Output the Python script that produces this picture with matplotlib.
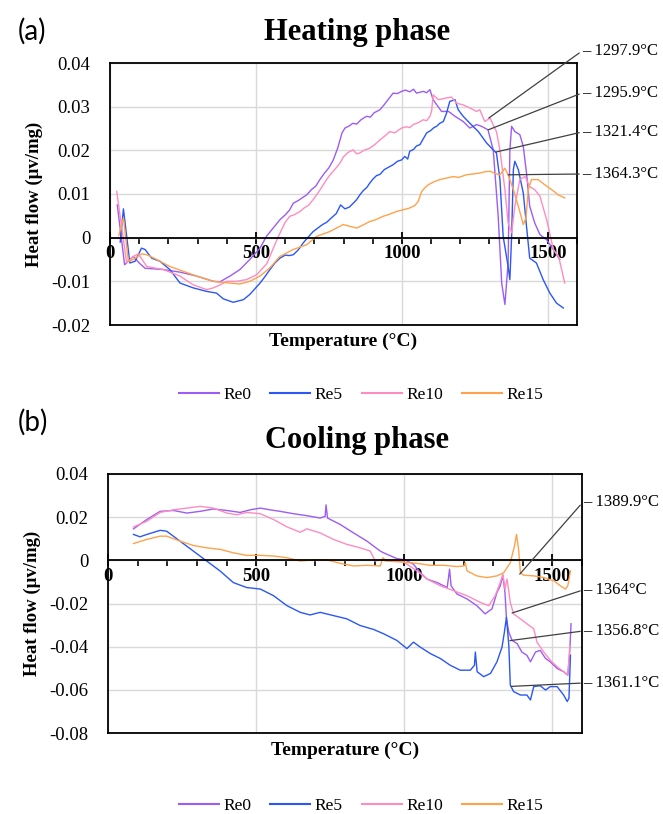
import matplotlib
matplotlib.use("Agg")
import matplotlib.pyplot as plt
from matplotlib.ticker import MultipleLocator

SERIF = "Liberation Serif"
labels = ["Re0", "Re5", "Re10", "Re15"]
colors = ["#9C5CF6", "#2B57F5", "#FF8CC0", "#FFA24C"]

# ---- heating phase (temperature in C, heat flow in uV/mg) ----
heat_re0_t = [25, 50, 80, 100, 120, 183, 240, 297, 354, 377, 411, 445, 479, 514, 536, 582, 600, 615,
              628, 645, 660, 674, 690, 705, 719, 735, 750, 765, 780, 795, 805, 820, 832, 845, 860, 879,
              892, 905, 925, 940, 955, 970, 985, 999, 1012, 1027, 1040, 1050, 1062, 1073, 1085, 1096,
              1107, 1136, 1160, 1182, 1210, 1233, 1256, 1273, 1295, 1313, 1330, 1342, 1353, 1364, 1370,
              1376, 1387, 1404, 1416, 1427, 1438, 1455, 1473, 1496, 1519, 1541]
heat_re0 = [0.0075, -0.0062, -0.0043, -0.0058, -0.0070, -0.0073, -0.0079, -0.0088, -0.0100, -0.0101,
            -0.0088, -0.0073, -0.0050, -0.0024, 0.0003, 0.0041, 0.0052, 0.0063, 0.0079, 0.0085, 0.0092,
            0.0098, 0.0110, 0.0118, 0.0133, 0.0148, 0.0160, 0.0178, 0.0205, 0.0240, 0.0251, 0.0256,
            0.0262, 0.0260, 0.0270, 0.0278, 0.0276, 0.0286, 0.0293, 0.0305, 0.0318, 0.0331, 0.0330,
            0.0335, 0.0338, 0.0334, 0.0340, 0.0331, 0.0333, 0.0335, 0.0332, 0.0339, 0.0316, 0.0289,
            0.0289, 0.0278, 0.0266, 0.0251, 0.0259, 0.0255, 0.0247, 0.0201, 0.0049, -0.0104, -0.0153,
            -0.0058, 0.0201, 0.0255, 0.0243, 0.0236, 0.0209, 0.0148, 0.0072, 0.0034, 0.0007, -0.0005,
            -0.0027, -0.0050]

heat_re5_t = [35, 46, 68, 86, 108, 120, 143, 171, 205, 240, 285, 331, 365, 388, 422, 457, 479, 514,
              530, 548, 565, 582, 600, 615, 628, 645, 662, 680, 696, 712, 728, 742, 758, 775, 790, 805,
              820, 835, 845, 856, 868, 880, 890, 902, 913, 925, 940, 959, 970, 985, 999, 1010, 1020,
              1027, 1040, 1050, 1062, 1073, 1085, 1098, 1110, 1119, 1130, 1142, 1153, 1164, 1182, 1193,
              1210, 1233, 1262, 1290, 1313, 1324, 1336, 1347, 1364, 1370, 1376, 1382, 1387, 1399, 1416,
              1427, 1438, 1461, 1484, 1507, 1530, 1553]
heat_re5 = [-0.0010, 0.0066, -0.0058, -0.0054, -0.0024, -0.0027, -0.0047, -0.0054, -0.0073, -0.0104,
            -0.0115, -0.0123, -0.0127, -0.0140, -0.0148, -0.0142, -0.0130, -0.0104, -0.0090, -0.0073,
            -0.0058, -0.0047, -0.0040, -0.0041, -0.0039, -0.0028, -0.0012, 0.0002, 0.0014, 0.0022,
            0.0030, 0.0035, 0.0045, 0.0055, 0.0075, 0.0066, 0.0070, 0.0080, 0.0087, 0.0098, 0.0108,
            0.0115, 0.0125, 0.0135, 0.0142, 0.0145, 0.0156, 0.0163, 0.0167, 0.0175, 0.0178, 0.0186,
            0.0180, 0.0198, 0.0202, 0.0210, 0.0213, 0.0226, 0.0240, 0.0245, 0.0252, 0.0255, 0.0262,
            0.0266, 0.0285, 0.0312, 0.0316, 0.0293, 0.0278, 0.0262, 0.0243, 0.0217, 0.0201, 0.0194,
            0.0133, 0.0003, -0.0066, -0.0096, 0.0003, 0.0156, 0.0175, 0.0156, 0.0102, 0.0026, -0.0047,
            -0.0058, -0.0096, -0.0127, -0.0150, -0.0161]

heat_re10_t = [23, 57, 80, 97, 126, 183, 240, 285, 331, 354, 377, 400, 434, 468, 502, 537, 559, 575,
               600, 616, 630, 651, 665, 680, 696, 710, 725, 742, 755, 770, 788, 800, 815, 833, 845, 856,
               870, 890, 905, 925, 940, 959, 975, 999, 1015, 1027, 1039, 1055, 1073, 1085, 1096, 1102,
               1107, 1125, 1153, 1170, 1187, 1210, 1233, 1256, 1267, 1284, 1302, 1324, 1336, 1353, 1364,
               1376, 1387, 1404, 1422, 1438, 1455, 1473, 1496, 1519, 1537, 1558]
heat_re10 = [0.0106, -0.0058, -0.0043, -0.0037, -0.0066, -0.0073, -0.0088, -0.0108, -0.0119, -0.0115,
             -0.0108, -0.0100, -0.0100, -0.0096, -0.0085, -0.0060, -0.0025, 0.0000, 0.0035, 0.0049,
             0.0052, 0.0060, 0.0068, 0.0074, 0.0087, 0.0100, 0.0115, 0.0133, 0.0145, 0.0156, 0.0171,
             0.0185, 0.0195, 0.0201, 0.0192, 0.0194, 0.0200, 0.0205, 0.0212, 0.0224, 0.0232, 0.0243,
             0.0240, 0.0251, 0.0254, 0.0252, 0.0259, 0.0263, 0.0270, 0.0268, 0.0278, 0.0290, 0.0327,
             0.0316, 0.0320, 0.0322, 0.0308, 0.0304, 0.0297, 0.0289, 0.0293, 0.0266, 0.0274, 0.0243,
             0.0201, 0.0110, 0.0034, 0.0011, 0.0072, 0.0133, 0.0140, 0.0117, 0.0110, 0.0095, 0.0041,
             -0.0027, -0.0043, -0.0104]

heat_re15_t = [30, 46, 63, 80, 108, 126, 160, 205, 251, 297, 354, 411, 445, 479, 514, 548, 582, 628,
               674, 708, 753, 799, 845, 870, 890, 910, 936, 955, 982, 1000, 1027, 1045, 1056, 1068, 1080,
               1090, 1110, 1130, 1150, 1176, 1195, 1221, 1245, 1267, 1285, 1302, 1320, 1336, 1353, 1364,
               1382, 1399, 1416, 1425, 1433, 1444, 1467, 1490, 1513, 1536, 1558]
heat_re15 = [0.0005, 0.0045, -0.0054, -0.0050, -0.0037, -0.0039, -0.0050, -0.0066, -0.0077, -0.0088,
             -0.0100, -0.0104, -0.0106, -0.0100, -0.0088, -0.0069, -0.0043, -0.0027, -0.0016, 0.0003,
             0.0014, 0.0030, 0.0022, 0.0030, 0.0037, 0.0041, 0.0049, 0.0053, 0.0060, 0.0063, 0.0068,
             0.0074, 0.0083, 0.0106, 0.0115, 0.0121, 0.0128, 0.0133, 0.0136, 0.0140, 0.0138, 0.0144,
             0.0146, 0.0148, 0.0151, 0.0152, 0.0147, 0.0144, 0.0159, 0.0144, 0.0110, 0.0072, 0.0030,
             0.0045, 0.0110, 0.0133, 0.0133, 0.0121, 0.0110, 0.0098, 0.0091]

# ---- cooling phase ----
cool_re0_t = [86, 131, 176, 221, 266, 311, 356, 401, 446, 480, 514, 547, 581, 626, 671, 716, 733, 736,
              741, 784, 829, 874, 919, 930, 975, 1003, 1031, 1054, 1077, 1111, 1145, 1153, 1158, 1178,
              1212, 1245, 1273, 1296, 1313, 1324, 1333, 1340, 1345, 1353, 1364, 1381, 1397, 1414, 1426,
              1443, 1459, 1477, 1493, 1516, 1538, 1552, 1558, 1563]
cool_re0 = [0.0146, 0.0189, 0.0227, 0.0231, 0.0219, 0.0227, 0.0238, 0.0231, 0.0222, 0.0234, 0.0242,
            0.0234, 0.0227, 0.0216, 0.0207, 0.0196, 0.0204, 0.0257, 0.0196, 0.0166, 0.0127, 0.0089,
            0.0043, 0.0035, 0.0008, 0.0002, -0.0018, -0.0057, -0.0087, -0.0103, -0.0126, -0.0041,
            -0.0118, -0.0156, -0.0179, -0.0210, -0.0248, -0.0225, -0.0149, -0.0118, -0.0072, -0.0149,
            -0.0271, -0.0333, -0.0371, -0.0386, -0.0425, -0.0440, -0.0470, -0.0425, -0.0417, -0.0455,
            -0.0470, -0.0501, -0.0516, -0.0532, -0.0440, -0.0294]

cool_re5_t = [86, 108, 131, 176, 198, 243, 288, 333, 378, 423, 468, 514, 559, 604, 649, 682, 716, 761,
              806, 851, 896, 930, 975, 1009, 1031, 1054, 1088, 1122, 1155, 1189, 1223, 1237, 1240, 1246,
              1268, 1291, 1313, 1330, 1338, 1345, 1353, 1358, 1369, 1392, 1414, 1426, 1437, 1459, 1477,
              1493, 1516, 1538, 1550, 1556, 1561]
cool_re5 = [0.0120, 0.0109, 0.0120, 0.0139, 0.0135, 0.0089, 0.0043, -0.0003, -0.0049, -0.0103, -0.0126,
            -0.0133, -0.0164, -0.0210, -0.0241, -0.0253, -0.0241, -0.0256, -0.0271, -0.0302, -0.0320,
            -0.0340, -0.0371, -0.0409, -0.0379, -0.0402, -0.0432, -0.0455, -0.0486, -0.0509, -0.0509,
            -0.0486, -0.0425, -0.0516, -0.0539, -0.0524, -0.0470, -0.0402, -0.0333, -0.0264, -0.0394,
            -0.0578, -0.0608, -0.0624, -0.0624, -0.0647, -0.0585, -0.0581, -0.0601, -0.0585, -0.0585,
            -0.0624, -0.0654, -0.0639, -0.0440]

cool_re10_t = [86, 131, 176, 221, 266, 311, 356, 401, 435, 468, 514, 559, 604, 649, 671, 716, 761, 806,
               851, 885, 902, 930, 998, 1043, 1077, 1122, 1167, 1212, 1257, 1285, 1307, 1324, 1333, 1340,
               1347, 1358, 1369, 1392, 1414, 1437, 1448, 1471, 1493, 1516, 1538, 1552, 1559]
cool_re10 = [0.0155, 0.0181, 0.0222, 0.0234, 0.0242, 0.0250, 0.0242, 0.0219, 0.0211, 0.0222, 0.0216,
             0.0189, 0.0155, 0.0130, 0.0146, 0.0127, 0.0097, 0.0074, 0.0058, 0.0043, -0.0003, 0.0005,
             -0.0008, -0.0049, -0.0087, -0.0118, -0.0141, -0.0164, -0.0195, -0.0210, -0.0164, -0.0103,
             -0.0064, -0.0133, -0.0087, -0.0195, -0.0248, -0.0271, -0.0294, -0.0317, -0.0379, -0.0425,
             -0.0463, -0.0493, -0.0516, -0.0532, -0.0394]

cool_re15_t = [86, 131, 176, 198, 243, 288, 333, 378, 423, 468, 514, 559, 604, 649, 694, 739, 784, 829,
               874, 919, 928, 936, 998, 1043, 1088, 1133, 1178, 1201, 1206, 1212, 1245, 1279, 1313, 1336,
               1358, 1372, 1379, 1386, 1392, 1403, 1437, 1471, 1505, 1527, 1544, 1552, 1561]
cool_re15 = [0.0078, 0.0097, 0.0112, 0.0112, 0.0089, 0.0069, 0.0058, 0.0051, 0.0035, 0.0023, 0.0023,
             0.0020, 0.0012, -0.0003, 0.0002, 0.0002, -0.0014, -0.0026, -0.0023, -0.0026, 0.0012,
             -0.0003, -0.0008, -0.0014, -0.0023, -0.0023, -0.0029, -0.0026, -0.0011, -0.0049, -0.0072,
             -0.0080, -0.0072, -0.0057, -0.0011, 0.0066, 0.0120, 0.0051, -0.0057, -0.0069, -0.0072,
             -0.0080, -0.0095, -0.0118, -0.0133, -0.0118, -0.0049]

# annotated temperatures and the heat flow at that point
heat_marks_t = [1297.9, 1295.9, 1321.4, 1364.3]
heat_marks_y = [0.0274, 0.0247, 0.0196, 0.0144]
heat_marks_txt = ["1297.9\u00b0C", "1295.9\u00b0C", "1321.4\u00b0C", "1364.3\u00b0C"]
cool_marks_t = [1389.9, 1364.0, 1356.8, 1361.1]
cool_marks_y = [-0.0064, -0.0244, -0.0372, -0.0584]
cool_marks_txt = ["1389.9\u00b0C", "1364\u00b0C", "1356.8\u00b0C", "1361.1\u00b0C"]

heat_yticks = [0.04, 0.03, 0.02, 0.01, 0, -0.01, -0.02]
cool_yticks = [0.04, 0.02, 0, -0.02, -0.04, -0.06, -0.08]

W, H = 663, 814
fig = plt.figure(figsize=(W / 100, H / 100), dpi=100)


def style_panel(ax, yticks):
    ax.set_xlim(0, 1600)
    ax.set_ylim(min(yticks), max(yticks))
    ax.set_axisbelow(True)
    ax.grid(True, which="major", color="#d9d9d9", lw=1.0)
    for s in ax.spines.values():
        s.set_color("black")
        s.set_linewidth(1.3)
    ax.spines["bottom"].set_position(("data", 0))
    ax.axhline(min(yticks), color="black", lw=1.3, clip_on=False)
    ax.set_yticks(yticks)
    ax.set_yticklabels(["0" if v == 0 else f"{v:g}" for v in yticks], fontfamily=SERIF, fontsize=13.5)
    ax.tick_params(axis="y", length=0, pad=14)
    ax.set_xticks([0, 500, 1000, 1500])
    ax.set_xticklabels(["0", "500", "1000", "1500"], fontfamily=SERIF, fontsize=13.5, fontweight="bold")
    ax.xaxis.set_minor_locator(MultipleLocator(100))
    ax.tick_params(axis="x", which="major", direction="inout", length=9, width=1.3, pad=1)
    ax.tick_params(axis="x", which="minor", direction="out", length=4.5, width=1.2)
    ax.set_ylabel("Heat flow (\u03bcv/mg)", fontfamily=SERIF, fontsize=13.5, fontweight="bold", labelpad=6)


def annotate(ax, ts, ys, txts, text_px_x, text_px_y):
    for t, y, s, py in zip(ts, ys, txts, text_px_y):
        ax.annotate("\u2013 " + s, xy=(t, y), xycoords="data",
                    xytext=(text_px_x / W, 1 - py / H), textcoords="figure fraction",
                    ha="left", va="center", fontfamily=SERIF, fontsize=12,
                    arrowprops=dict(arrowstyle="-", color="#404040", lw=0.9,
                                    shrinkA=0, shrinkB=0, relpos=(0, 0.5)))


def legend(y_px):
    handles = [plt.Line2D([], [], color=c, lw=1.5) for c in colors]
    fig.legend(handles, labels, loc="center", bbox_to_anchor=(361 / W, 1 - y_px / H), ncol=4,
               frameon=False, handlelength=2.3, handletextpad=0.25, columnspacing=1.1,
               prop={"family": SERIF, "size": 12.5})


# ---- (a) heating ----
ax1 = fig.add_axes([110 / W, 1 - 325 / H, 467 / W, 262 / H])
for t, v, c in zip([heat_re0_t, heat_re5_t, heat_re10_t, heat_re15_t],
                   [heat_re0, heat_re5, heat_re10, heat_re15], colors):
    ax1.plot(t, v, color=c, lw=1.0)
style_panel(ax1, heat_yticks)
ax1.text(0.5, -0.03, "Temperature (\u00b0C)", transform=ax1.transAxes, ha="center", va="top",
         fontfamily=SERIF, fontsize=14, fontweight="bold")
annotate(ax1, heat_marks_t, heat_marks_y, heat_marks_txt, 582, [51, 93, 132, 174])
fig.text(357 / W, 1 - 40 / H, "Heating phase", ha="center", va="baseline",
         fontfamily=SERIF, fontsize=22, fontweight="bold")
fig.text(32 / W, 1 - 31 / H, "(a)", ha="center", va="center", fontfamily="Lato", fontsize=20)
legend(395)

# ---- (b) cooling ----
ax2 = fig.add_axes([108 / W, 1 - 733 / H, 474 / W, 259 / H])
for t, v, c in zip([cool_re0_t, cool_re5_t, cool_re10_t, cool_re15_t],
                   [cool_re0, cool_re5, cool_re10, cool_re15], colors):
    ax2.plot(t, v, color=c, lw=1.0)
style_panel(ax2, cool_yticks)
ax2.text(0.5, -0.035, "Temperature (\u00b0C)", transform=ax2.transAxes, ha="center", va="top",
         fontfamily=SERIF, fontsize=14, fontweight="bold")
annotate(ax2, cool_marks_t, cool_marks_y, cool_marks_txt, 583, [502, 590, 631, 683])
fig.text(357 / W, 1 - 448 / H, "Cooling phase", ha="center", va="baseline",
         fontfamily=SERIF, fontsize=22, fontweight="bold")
fig.text(33 / W, 1 - 422 / H, "(b)", ha="center", va="center", fontfamily="Lato", fontsize=20)
legend(806)

fig.savefig("out.png", dpi=100)
